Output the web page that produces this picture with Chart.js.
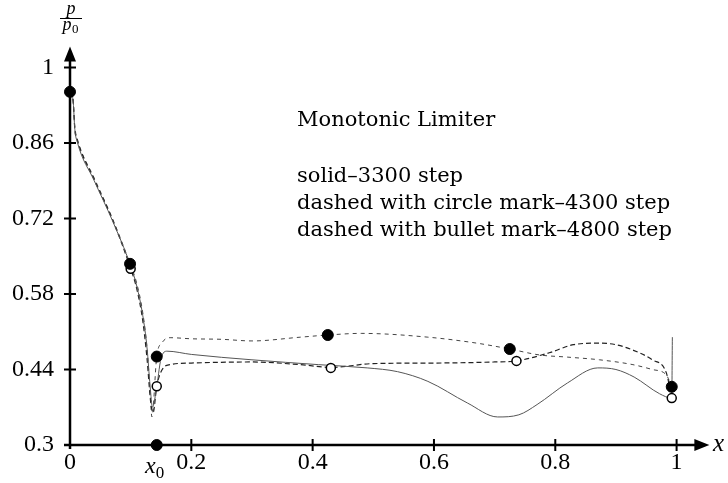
<!DOCTYPE html>
<html>
<head>
<meta charset="utf-8">
<script src="https://cdn.jsdelivr.net/npm/chart.js@4"></script>
<style>
  html, body { margin: 0; padding: 0; background: #fff; }
</style>
</head>
<body>
<canvas id="c" width="728" height="483"></canvas>
<script>
// ticks
const xTicks = [0, 0.2, 0.4, 0.6, 0.8, 1];
const yTicks = [0.3, 0.44, 0.58, 0.72, 0.86, 1];

// solid - 3300 step
const solidX = [0, 0.005, 0.008, 0.012, 0.04, 0.07, 0.1, 0.11, 0.12, 0.127, 0.132, 0.136, 0.142, 0.15, 0.16, 0.2, 0.3, 0.41, 0.49, 0.54, 0.59, 0.655, 0.705, 0.74, 0.77, 0.82, 0.87, 0.9, 0.93, 0.972, 0.992, 0.993];
const solidY = [0.955, 0.94, 0.885, 0.862, 0.79, 0.716, 0.632, 0.595, 0.54, 0.48, 0.41, 0.37, 0.40, 0.46, 0.474, 0.468, 0.458, 0.449, 0.443, 0.436, 0.418, 0.378, 0.352, 0.356, 0.375, 0.415, 0.443, 0.44, 0.426, 0.395, 0.387, 0.50];

// dashed with circle mark - 4300 step
const circX = [0, 0.005, 0.008, 0.012, 0.04, 0.07, 0.1, 0.11, 0.12, 0.127, 0.133, 0.137, 0.143, 0.152, 0.165, 0.2, 0.3, 0.38, 0.43, 0.5, 0.6, 0.7, 0.736, 0.79, 0.83, 0.873, 0.9, 0.928, 0.96, 0.983, 0.992];
const circY = [0.955, 0.94, 0.885, 0.865, 0.792, 0.718, 0.627, 0.59, 0.53, 0.46, 0.38, 0.36, 0.409, 0.44, 0.449, 0.452, 0.454, 0.449, 0.444, 0.451, 0.452, 0.454, 0.456, 0.471, 0.486, 0.489, 0.486, 0.476, 0.458, 0.434, 0.387];

// dashed with bullet mark - 4800 step
const bullX = [0, 0.005, 0.008, 0.012, 0.04, 0.07, 0.099, 0.11, 0.12, 0.127, 0.132, 0.135, 0.143, 0.152, 0.165, 0.2, 0.25, 0.3, 0.38, 0.425, 0.48, 0.59, 0.67, 0.725, 0.774, 0.82, 0.873, 0.928, 0.96, 0.983, 0.992];
const bullY = [0.955, 0.94, 0.89, 0.868, 0.795, 0.72, 0.636, 0.6, 0.545, 0.48, 0.4, 0.352, 0.464, 0.49, 0.499, 0.497, 0.496, 0.493, 0.5, 0.504, 0.507, 0.5, 0.489, 0.478, 0.467, 0.463, 0.458, 0.449, 0.44, 0.43, 0.408];

// marks
const bulletMarkX = [0, 0.099, 0.143, 0.425, 0.725, 0.992];
const bulletMarkY = [0.955, 0.636, 0.464, 0.504, 0.478, 0.408];
const circleMarkX = [0.1, 0.143, 0.43, 0.736, 0.992];
const circleMarkY = [0.627, 0.409, 0.443, 0.456, 0.387];
const x0 = 0.143;

const title = "Monotonic Limiter";
const legendLines = ["solid\u20133300 step", "dashed with circle mark\u20134300 step", "dashed with bullet mark\u20134800 step"];

const pts = (xs, ys) => xs.map((x, i) => ({ x: x, y: ys[i] }));

const tickFont = { family: "'Liberation Serif', serif", size: 24 };

const axesPlugin = {
  id: "axes",
  beforeDatasetsDraw(chart) {
    const { ctx, scales: { x, y } } = chart;
    const ox = x.getPixelForValue(0), oy = y.getPixelForValue(0.3);
    const xEnd = x.getPixelForValue(1.054), yEnd = y.getPixelForValue(1.039);
    ctx.save();
    ctx.strokeStyle = "#000";
    ctx.fillStyle = "#000";
    ctx.lineWidth = 2.5;
    ctx.beginPath();
    ctx.moveTo(ox - 6, oy); ctx.lineTo(xEnd - 10, oy);
    ctx.moveTo(ox, oy + 4); ctx.lineTo(ox, yEnd + 10);
    ctx.stroke();
    // arrows
    ctx.beginPath();
    ctx.moveTo(xEnd, oy); ctx.lineTo(xEnd - 15, oy - 6); ctx.lineTo(xEnd - 15, oy + 6); ctx.closePath();
    ctx.moveTo(ox, yEnd); ctx.lineTo(ox - 6, yEnd + 15); ctx.lineTo(ox + 6, yEnd + 15); ctx.closePath();
    ctx.fill();
    // tick marks
    ctx.lineWidth = 2;
    ctx.beginPath();
    xTicks.forEach(v => {
      if (v === 0) return;
      const px = x.getPixelForValue(v);
      ctx.moveTo(px, oy - 6); ctx.lineTo(px, oy + 6);
    });
    yTicks.forEach(v => {
      const py = y.getPixelForValue(v);
      ctx.moveTo(ox - 6, py); ctx.lineTo(ox + 6, py);
    });
    ctx.stroke();
    ctx.restore();
  },
  afterDraw(chart) {
    const { ctx, scales: { x, y } } = chart;
    const ox = x.getPixelForValue(0);
    ctx.save();
    ctx.fillStyle = "#000";
    // annotation
    ctx.font = "21px 'DejaVu Serif', serif";
    ctx.textAlign = "left";
    ctx.textBaseline = "alphabetic";
    ctx.fillText(title, 297, 126);
    legendLines.forEach((t, i) => ctx.fillText(t, 297, 182 + i * 27));
    // x axis label
    ctx.font = "italic 25px 'Liberation Serif', serif";
    ctx.fillText("x", 713, 451);
    // x0 label
    const px0 = x.getPixelForValue(x0);
    ctx.font = "italic 24px 'Liberation Serif', serif";
    ctx.textAlign = "right";
    ctx.fillText("x", px0 - 1, 473);
    ctx.textAlign = "left";
    ctx.font = "17px 'Liberation Serif', serif";
    ctx.fillText("0", px0 - 1, 478);
    // y axis label p / p0
    ctx.font = "italic 18px 'Liberation Serif', serif";
    ctx.textAlign = "center";
    ctx.fillText("p", ox + 1, 14);
    ctx.fillText("p", ox - 3, 30);
    ctx.font = "13px 'Liberation Serif', serif";
    ctx.textAlign = "left";
    ctx.fillText("0", ox + 2, 33);
    ctx.lineWidth = 1;
    ctx.beginPath();
    ctx.moveTo(ox - 10, 18.5); ctx.lineTo(ox + 12, 18.5);
    ctx.stroke();
    ctx.restore();
  }
};

new Chart(document.getElementById("c"), {
  type: "line",
  data: {
    datasets: [
      {
        label: "bullet marks",
        data: pts(bulletMarkX, bulletMarkY).concat([{ x: x0, y: 0.3 }]),
        showLine: false,
        pointRadius: 5.5,
        pointBackgroundColor: "#000",
        pointBorderColor: "#000",
        pointBorderWidth: 1,
        clip: false,
        order: 0
      },
      {
        label: "circle marks",
        data: pts(circleMarkX, circleMarkY),
        showLine: false,
        pointRadius: 4.5,
        pointBackgroundColor: "#fff",
        pointBorderColor: "#000",
        pointBorderWidth: 1.5,
        clip: false,
        order: 0
      },
      {
        label: "3300 step",
        data: pts(solidX, solidY),
        borderColor: "#555",
        borderWidth: 1,
        pointRadius: 0,
        cubicInterpolationMode: "monotone",
        order: 1
      },
      {
        label: "4300 step",
        data: pts(circX, circY),
        borderColor: "#222",
        borderWidth: 1.2,
        borderDash: [5, 3],
        pointRadius: 0,
        cubicInterpolationMode: "monotone",
        order: 1
      },
      {
        label: "4800 step",
        data: pts(bullX, bullY),
        borderColor: "#444",
        borderWidth: 1,
        borderDash: [4, 4],
        pointRadius: 0,
        cubicInterpolationMode: "monotone",
        order: 1
      }
    ]
  },
  options: {
    responsive: false,
    animation: false,
    layout: { padding: { top: 46, right: 15, left: 0, bottom: 0 } },
    plugins: { legend: { display: false }, tooltip: { enabled: false } },
    scales: {
      x: {
        type: "linear",
        min: 0,
        max: 1.06,
        afterBuildTicks: s => { s.ticks = xTicks.map(v => ({ value: v })); },
        afterFit: s => { s.height = 38; },
        grid: { display: false, drawTicks: false },
        border: { display: false },
        ticks: { font: tickFont, color: "#000", padding: 3, maxRotation: 0, autoSkip: false, callback: v => String(v) }
      },
      y: {
        type: "linear",
        min: 0.3,
        max: 1.04,
        afterBuildTicks: s => { s.ticks = yTicks.map(v => ({ value: v })); },
        afterFit: s => { s.width = 70; },
        grid: { display: false, drawTicks: false },
        border: { display: false },
        ticks: { font: tickFont, color: "#000", padding: 16, autoSkip: false, callback: v => String(v) }
      }
    }
  },
  plugins: [axesPlugin]
});
</script>
</body>
</html>
